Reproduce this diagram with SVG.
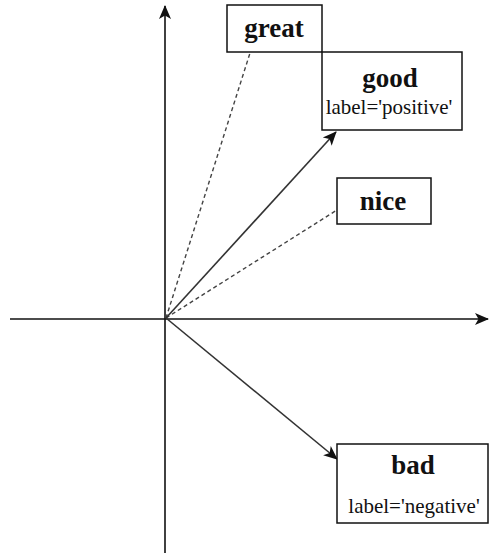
<svg xmlns="http://www.w3.org/2000/svg" width="490" height="556" viewBox="0 0 490 556">
<style>
.box{fill:#fff;stroke:#111;stroke-width:1.5}
text{font-family:'Liberation Serif','Times New Roman',Times,serif;fill:#111;text-anchor:middle}
.b{font-weight:bold;font-size:27px}
.r{font-size:21px}
.axis{stroke:#111;stroke-width:1.6;fill:none}
.vec{stroke:#333;stroke-width:1.6;fill:none}
.dash{stroke:#444;stroke-width:1.4;fill:none;stroke-dasharray:4 3}
</style>
<defs>
<marker id="ah" viewBox="0 0 14 14" refX="13" refY="7" markerWidth="14" markerHeight="14" markerUnits="userSpaceOnUse" orient="auto">
<path d="M0,1 L14,7 L0,13 L3.5,7 Z" fill="#111"/>
</marker>
</defs>
<g id="connectors">
<line class="axis" x1="10" y1="319" x2="488" y2="319" marker-end="url(#ah)"/>
<line class="axis" x1="165" y1="553" x2="165" y2="6" marker-end="url(#ah)"/>
<line class="dash" x1="166" y1="318" x2="250" y2="53"/>
<line class="dash" x1="166" y1="318" x2="337" y2="210"/>
<line class="vec" x1="166" y1="318" x2="336" y2="132" marker-end="url(#ah)"/>
<line class="vec" x1="166" y1="318" x2="337" y2="459" marker-end="url(#ah)"/>
</g>
<g id="great">
<rect class="box" x="227" y="5" width="95" height="47"/>
<text class="b" x="274" y="37">great</text>
</g>
<g id="good">
<rect class="box" x="322" y="52" width="140" height="78"/>
<text class="b" x="390" y="87">good</text>
<text class="r" x="389" y="114">label='positive'</text>
</g>
<g id="nice">
<rect class="box" x="337" y="178" width="94" height="46"/>
<text class="b" x="383" y="210">nice</text>
</g>
<g id="bad">
<rect class="box" x="337" y="444" width="151" height="79"/>
<text class="b" x="413" y="474">bad</text>
<text class="r" x="414" y="513">label='negative'</text>
</g>
</svg>
